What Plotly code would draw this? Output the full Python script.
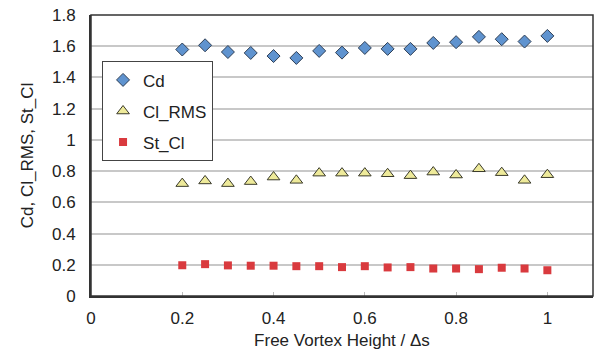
import plotly.graph_objects as go

x_vals = [0.2, 0.25, 0.3, 0.35, 0.4, 0.45, 0.5, 0.55, 0.6, 0.65, 0.7, 0.75, 0.8, 0.85, 0.9, 0.95, 1.0]
cd = [1.579, 1.606, 1.563, 1.557, 1.537, 1.525, 1.570, 1.559, 1.589, 1.583, 1.583, 1.621, 1.626, 1.660, 1.645, 1.630, 1.666]
cl_rms = [0.720, 0.737, 0.720, 0.733, 0.762, 0.741, 0.787, 0.787, 0.787, 0.783, 0.771, 0.794, 0.775, 0.815, 0.790, 0.741, 0.777]
st_cl = [0.197, 0.204, 0.196, 0.194, 0.194, 0.191, 0.191, 0.185, 0.191, 0.183, 0.185, 0.176, 0.176, 0.172, 0.181, 0.176, 0.165]

font = "Liberation Sans, Arial, sans-serif"

fig = go.Figure()
fig.add_trace(go.Scatter(x=x_vals, y=cd, mode="markers", name="Cd", legendgroup="a",
                         marker=dict(symbol="diamond", size=10, color="#5f93cf",
                                     line=dict(color="#2f3f55", width=1))))
fig.add_trace(go.Scatter(x=x_vals, y=cl_rms, mode="markers", name="Cl_RMS", legendgroup="b",
                         marker=dict(symbol="triangle-up", size=11, color="#eeea9a",
                                     line=dict(color="#3a3a2a", width=1))))
fig.add_trace(go.Scatter(x=x_vals, y=st_cl, mode="markers", name="St_Cl", legendgroup="c",
                         marker=dict(symbol="square", size=8, color="#d93a3e",
                                     line=dict(width=0))))

fig.update_layout(
    width=597, height=358,
    margin=dict(l=91, r=4, t=15, b=62),
    paper_bgcolor="white", plot_bgcolor="white",
    font=dict(family=font, size=17, color="#222"),
    legend=dict(x=0.022, y=0.835, xanchor="left", yanchor="top",
                bgcolor="white", bordercolor="#444", borderwidth=1,
                font=dict(size=17), itemsizing="trace",
                tracegroupgap=6, itemwidth=30),
    xaxis=dict(range=[0, 1.1], tickvals=[0, 0.2, 0.4, 0.6, 0.8, 1],
               ticktext=["0", "0.2", "0.4", "0.6", "0.8", "1"],
               showgrid=False, zeroline=False, automargin=False,
               showline=True, linecolor="#333", linewidth=2, mirror=False,
               ticks="inside", ticklen=4, tickcolor="#bbb", ticklabelstandoff=6,
               title=dict(text="Free Vortex Height / Δs", font=dict(size=17), standoff=7)),
    yaxis=dict(range=[0, 1.8], tickvals=[0, 0.2, 0.4, 0.6, 0.8, 1, 1.2, 1.4, 1.6, 1.8],
               ticktext=["0", "0.2", "0.4", "0.6", "0.8", "1", "1.2", "1.4", "1.6", "1.8"],
               showgrid=True, gridcolor="#c8c8c8", gridwidth=1.5, zeroline=False, automargin=False,
               showline=True, linecolor="#333", linewidth=2, mirror=False,
               ticks="", ticklabelstandoff=10,
               title=dict(text="Cd, Cl_RMS, St_Cl", font=dict(size=17), standoff=14)),
)
fig.add_shape(type="rect", xref="paper", yref="paper", x0=0, y0=0, x1=1, y1=1,
              line=dict(color="#333", width=1.5), layer="above")

fig.write_html("out.html", config={"displayModeBar": False},
               post_script="document.body.style.margin='0';document.body.style.overflow='hidden';")
